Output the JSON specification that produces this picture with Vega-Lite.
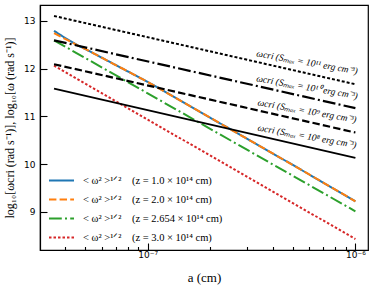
{
  "$schema": "https://vega.github.io/schema/vega-lite/v6.json",
  "width": 328,
  "height": 245,
  "autosize": {"type": "none"},
  "padding": {"left": 40, "top": 5, "right": 6, "bottom": 38},
  "background": "white",
  "config": {
    "view": {"stroke": "black", "strokeWidth": 1.2},
    "axis": {
      "grid": false,
      "domainColor": "black",
      "domainWidth": 1.2,
      "tickColor": "black",
      "tickWidth": 1.1,
      "labelFont": "DejaVu Sans",
      "labelFontSize": 9,
      "labelColor": "black",
      "titleFont": "Liberation Serif",
      "titleFontWeight": "normal",
      "titleColor": "black"
    }
  },
  "datasets": {
    "col": [
      {"s": "< ω² >¹ᐟ²\u2003(z = 1.0 × 10¹⁴ cm)", "a": 3.54e-8, "v": 12.79},
      {"s": "< ω² >¹ᐟ²\u2003(z = 1.0 × 10¹⁴ cm)", "a": 4.0e-8, "v": 12.64},
      {"s": "< ω² >¹ᐟ²\u2003(z = 1.0 × 10¹⁴ cm)", "a": 4.62e-8, "v": 12.48},
      {"s": "< ω² >¹ᐟ²\u2003(z = 1.0 × 10¹⁴ cm)", "a": 5e-8, "v": 12.41},
      {"s": "< ω² >¹ᐟ²\u2003(z = 1.0 × 10¹⁴ cm)", "a": 1e-7, "v": 11.72},
      {"s": "< ω² >¹ᐟ²\u2003(z = 1.0 × 10¹⁴ cm)", "a": 2e-7, "v": 10.97},
      {"s": "< ω² >¹ᐟ²\u2003(z = 1.0 × 10¹⁴ cm)", "a": 5e-7, "v": 9.98},
      {"s": "< ω² >¹ᐟ²\u2003(z = 1.0 × 10¹⁴ cm)", "a": 1e-6, "v": 9.22},
      {"s": "< ω² >¹ᐟ²\u2003(z = 2.0 × 10¹⁴ cm)", "a": 3.54e-8, "v": 12.74},
      {"s": "< ω² >¹ᐟ²\u2003(z = 2.0 × 10¹⁴ cm)", "a": 4.62e-8, "v": 12.48},
      {"s": "< ω² >¹ᐟ²\u2003(z = 2.0 × 10¹⁴ cm)", "a": 5e-8, "v": 12.41},
      {"s": "< ω² >¹ᐟ²\u2003(z = 2.0 × 10¹⁴ cm)", "a": 1e-7, "v": 11.72},
      {"s": "< ω² >¹ᐟ²\u2003(z = 2.0 × 10¹⁴ cm)", "a": 2e-7, "v": 10.97},
      {"s": "< ω² >¹ᐟ²\u2003(z = 2.0 × 10¹⁴ cm)", "a": 5e-7, "v": 9.98},
      {"s": "< ω² >¹ᐟ²\u2003(z = 2.0 × 10¹⁴ cm)", "a": 1e-6, "v": 9.22},
      {"s": "< ω² >¹ᐟ²\u2003(z = 2.654 × 10¹⁴ cm)", "a": 3.54e-8, "v": 12.59},
      {"s": "< ω² >¹ᐟ²\u2003(z = 2.654 × 10¹⁴ cm)", "a": 1e-7, "v": 11.48},
      {"s": "< ω² >¹ᐟ²\u2003(z = 2.654 × 10¹⁴ cm)", "a": 1e-6, "v": 9.01},
      {"s": "< ω² >¹ᐟ²\u2003(z = 3.0 × 10¹⁴ cm)", "a": 3.54e-8, "v": 12.06},
      {"s": "< ω² >¹ᐟ²\u2003(z = 3.0 × 10¹⁴ cm)", "a": 1e-7, "v": 10.93},
      {"s": "< ω² >¹ᐟ²\u2003(z = 3.0 × 10¹⁴ cm)", "a": 1e-6, "v": 8.43}
    ],
    "blk": [
      {"s": "s11", "a": 3.54e-8, "v": 13.10},
      {"s": "s11", "a": 1e-6, "v": 11.67},
      {"s": "s10", "a": 3.54e-8, "v": 12.59},
      {"s": "s10", "a": 1e-6, "v": 11.17},
      {"s": "s9", "a": 3.54e-8, "v": 12.09},
      {"s": "s9", "a": 1e-6, "v": 10.66},
      {"s": "s8", "a": 3.54e-8, "v": 11.58},
      {"s": "s8", "a": 1e-6, "v": 10.13}
    ],
    "ann": [
      {"t": "ωcri (Sₘₐₓ = 10¹¹ erg cm⁻³)", "a": 5.85e-7, "v": 12.13},
      {"t": "ωcri (Sₘₐₓ = 10¹⁰ erg cm⁻³)", "a": 5.85e-7, "v": 11.61},
      {"t": "ωcri (Sₘₐₓ = 10⁹ erg cm⁻³)", "a": 5.85e-7, "v": 11.11},
      {"t": "ωcri (Sₘₐₓ = 10⁸ erg cm⁻³)", "a": 5.85e-7, "v": 10.58}
    ]
  },
  "encoding": {
    "x": {
      "field": "a",
      "type": "quantitative",
      "scale": {"type": "log", "domain": [3.03e-8, 1.15e-6]},
      "axis": {
        "title": "a (cm)",
        "titleFontSize": 13,
        "titlePadding": 12,
        "values": [4e-8, 5e-8, 6e-8, 7e-8, 8e-8, 9e-8, 1e-7, 2e-7, 3e-7, 4e-7, 5e-7, 6e-7, 7e-7, 8e-7, 9e-7, 1e-6],
        "tickSize": {"condition": {"test": "datum.value == 1e-7 || datum.value == 1e-6", "value": -7}, "value": -3.5},
        "labelPadding": 7.5,
        "labelExpr": "datum.value == 1e-7 ? '10⁻⁷' : (datum.value == 1e-6 ? '10⁻⁶' : '')",
        "labelFlush": false
      }
    },
    "y": {
      "field": "v",
      "type": "quantitative",
      "scale": {"domain": [8.2, 13.33], "nice": false, "zero": false},
      "axis": {
        "title": "log₁₀[ωcri (rad s⁻¹)], log₁₀[ω (rad s⁻¹)]",
        "titleFontSize": 12,
        "titlePadding": 7,
        "values": [9, 10, 11, 12, 13],
        "tickSize": -7,
        "labelPadding": 12,
        "labelFlush": false
      }
    }
  },
  "layer": [
    {
      "data": {"name": "col"},
      "mark": {"type": "line", "strokeWidth": 2},
      "encoding": {
        "color": {
          "field": "s",
          "type": "nominal",
          "sort": null,
          "scale": {
            "domain": ["< ω² >¹ᐟ²\u2003(z = 1.0 × 10¹⁴ cm)", "< ω² >¹ᐟ²\u2003(z = 2.0 × 10¹⁴ cm)", "< ω² >¹ᐟ²\u2003(z = 2.654 × 10¹⁴ cm)", "< ω² >¹ᐟ²\u2003(z = 3.0 × 10¹⁴ cm)"],
            "range": ["#1f77b4", "#ff7f0e", "#2ca02c", "#d62728"]
          },
          "legend": {
            "title": null,
            "orient": "none",
            "legendX": 8,
            "legendY": 162,
            "symbolType": "stroke",
            "symbolSize": 625,
            "symbolStrokeWidth": 2,
            "rowPadding": -4.5,
            "labelFont": "Liberation Serif",
            "labelFontSize": 10.5,
            "labelColor": "black",
            "labelOffset": 8,
            "labelLimit": 300
          }
        },
        "strokeDash": {
          "field": "s",
          "type": "nominal",
          "sort": null,
          "scale": {
            "domain": ["< ω² >¹ᐟ²\u2003(z = 1.0 × 10¹⁴ cm)", "< ω² >¹ᐟ²\u2003(z = 2.0 × 10¹⁴ cm)", "< ω² >¹ᐟ²\u2003(z = 2.654 × 10¹⁴ cm)", "< ω² >¹ᐟ²\u2003(z = 3.0 × 10¹⁴ cm)"],
            "range": [[1, 0], [7.4, 3.2], [12.8, 3.2, 2, 3.2], [2.5, 2]]
          },
          "legend": {
            "title": null,
            "orient": "none",
            "legendX": 8,
            "legendY": 162,
            "symbolType": "stroke",
            "symbolSize": 625,
            "symbolStrokeWidth": 2,
            "rowPadding": -4.5,
            "labelFont": "Liberation Serif",
            "labelFontSize": 10.5,
            "labelColor": "black",
            "labelOffset": 8,
            "labelLimit": 300
          }
        }
      }
    },
    {
      "data": {"name": "blk"},
      "transform": [{"filter": "datum.s == 's11'"}],
      "mark": {"type": "line", "color": "black", "strokeWidth": 2, "strokeDash": [3, 2]},
      "encoding": {}
    },
    {
      "data": {"name": "blk"},
      "transform": [{"filter": "datum.s == 's10'"}],
      "mark": {"type": "line", "color": "black", "strokeWidth": 2.2, "strokeDash": [12.8, 3.2, 2, 3.2]},
      "encoding": {}
    },
    {
      "data": {"name": "blk"},
      "transform": [{"filter": "datum.s == 's9'"}],
      "mark": {"type": "line", "color": "black", "strokeWidth": 2.2, "strokeDash": [7.4, 3.2]},
      "encoding": {}
    },
    {
      "data": {"name": "blk"},
      "transform": [{"filter": "datum.s == 's8'"}],
      "mark": {"type": "line", "color": "black", "strokeWidth": 1.8},
      "encoding": {}
    },
    {
      "data": {"name": "ann"},
      "mark": {"type": "text", "font": "Liberation Serif", "fontStyle": "italic", "fontSize": 9.5, "angle": 10, "align": "center", "baseline": "middle", "color": "black"},
      "encoding": {"text": {"field": "t"}}
    }
  ]
}
